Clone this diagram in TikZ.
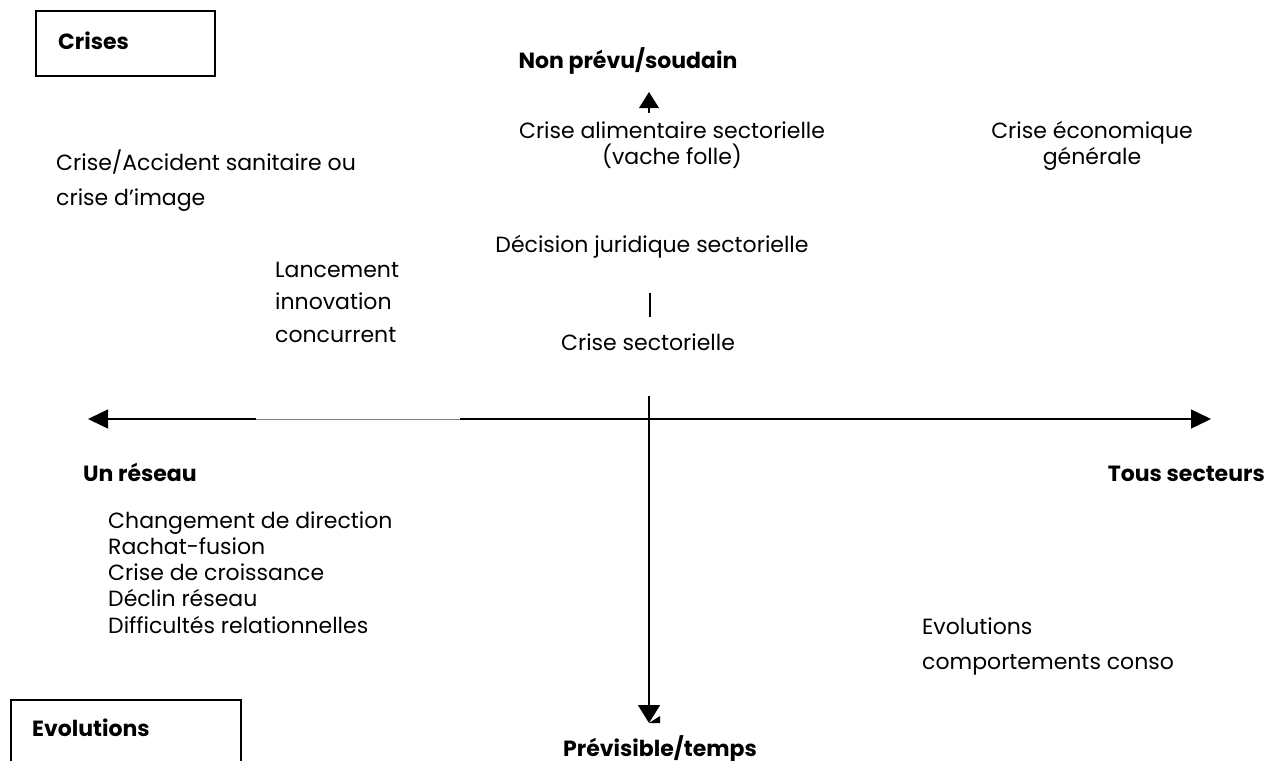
\documentclass[tikz,border=0pt]{standalone}
\usepackage{fontspec}
\setmainfont{Poppins}
\usetikzlibrary{arrows.meta}

\begin{document}
\begin{tikzpicture}[x=1pt,y=-1pt,
    txt/.style={font=\fontsize{22}{26}\selectfont, inner sep=0pt, align=left},
    hdr/.style={font=\fontsize{22}{26}\selectfont\bfseries, inner sep=0pt},
    axe/.style={line width=1.4pt, -{Triangle[length=20pt,width=19pt]}},
    cadre/.style={draw, line width=1.4pt}]
                \useasboundingbox (0,0) rectangle (1279,760);

                % axes
                \coordinate (G) at (88,419);
                \coordinate (G1) at (256,419);
                \coordinate (G2) at (460,419);
                \coordinate (D) at (1211,419);
                \coordinate (H0) at (649,396);
                \coordinate (B) at (649,723);
                \coordinate (T0) at (649,113);
                \coordinate (T) at (649,92);
                \coordinate (S1) at (650,293);
                \coordinate (S2) at (650,317);

                \draw[axe] (G1) -- (G);
                \draw[gray, line width=0.8pt] (G1) -- (G2);
                \draw[axe] (G2) -- (D);
                \draw[axe, -{Triangle[length=18pt,width=22pt]}] (H0) -- (B);
                \fill (B) -- ++(11,-7) -- ++(0,7) -- cycle;
                \draw[line width=1.4pt] (T0) -- ++(0,-6);
                \fill (T) -- ++(-10,16) -- ++(20,0) -- cycle;
                \draw[line width=1.2pt] (S1) -- (S2);

                % cadres
                \draw[cadre] (36,11) rectangle (215,76);
                \draw[cadre] (11,700) rectangle (241,775);
                \node[hdr, anchor=base west] (crises) at (58,50) {Crises};
                \node[hdr, anchor=base west] (evol) at (32,736) {Evolutions};

                % poles
                \node[hdr, anchor=base] (haut) at (628,69) {Non prévu/soudain};
                \node[hdr, anchor=base] (bas) at (660,756) {Prévisible/temps};
                \node[hdr, anchor=base west] (gauche) at (83,481) {Un réseau};
                \node[hdr, anchor=base east] (droite) at (1265,481) {Tous secteurs};

                % cas (ancre base = ligne du bas)
                \node[txt, anchor=base, align=center] (alim) at (672,164) {Crise alimentaire sectorielle\\(vache folle)};
                \node[txt, anchor=base, align=center] (eco) at (1092,164) {Crise économique\\générale};
                \node[txt, anchor=base west, font=\fontsize{22}{35}\selectfont] (sanit) at (56,205) {Crise/Accident sanitaire ou\\crise d’image};
                \node[txt, anchor=base] (jurid) at (652,252) {Décision juridique sectorielle};
                \node[txt, anchor=base west, font=\fontsize{22}{32.5}\selectfont] (lance) at (275,342) {Lancement\\innovation\\concurrent};
                \node[txt, anchor=base] (secto) at (648,350) {Crise sectorielle};
                \node[txt, anchor=base west, font=\fontsize{22}{26.25}\selectfont] (reseau) at (108,633) {Changement de direction\\Rachat-fusion\\Crise de croissance\\Déclin réseau\\Difficultés relationnelles};
                \node[txt, anchor=base west, font=\fontsize{22}{35}\selectfont] (conso) at (922,669) {Evolutions\\comportements conso};
                \end{tikzpicture}
\end{document}
